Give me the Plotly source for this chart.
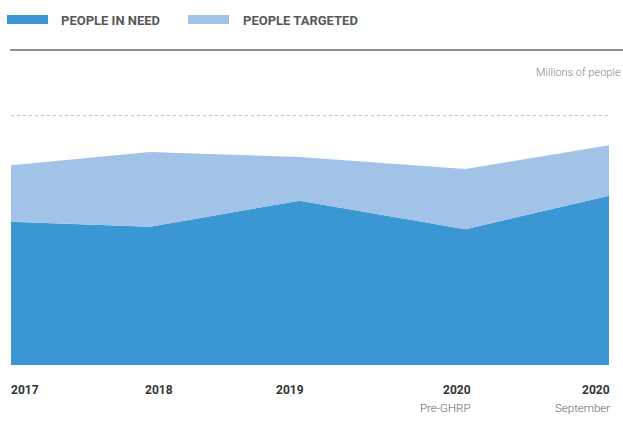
import plotly.graph_objects as go

# ---- data (millions of people) ----
years = ["2017", "2018", "2019", "2020", "2020"]
sublabels = ["", "", "", "Pre-GHRP", "September"]
x_pos = [0, 0.93, 1.93, 3.04, 4]
people_in_need = [11.5, 11.1, 13.2, 10.9, 13.6]
people_targeted = [16.05, 17.1, 16.7, 15.75, 17.65]
grid_ticks = [0, 5, 10, 15, 20]

DARK = "#3B97D4"
LIGHT = "#A1C3E7"

fig = go.Figure()
fig.add_trace(go.Scatter(
    x=x_pos, y=people_in_need, mode="lines", line=dict(width=0, color=DARK),
    fill="tozeroy", fillcolor=DARK, name="PEOPLE IN NEED", hoverinfo="skip"))
fig.add_trace(go.Scatter(
    x=x_pos, y=people_targeted, mode="lines", line=dict(width=0, color=LIGHT),
    fill="tonexty", fillcolor=LIGHT, name="PEOPLE TARGETED", hoverinfo="skip"))

W, H = 623, 430
YMAX = 20.4
L, R, B = 11, 14, 65
ph = round(249 * YMAX / 20)
T = H - B - ph
pw = W - L - R

def px(xp):
    return (xp - L) / pw

def py(yp):
    return (H - B - yp) / ph

shapes = []
annotations = []

# legend
legend_items = [("PEOPLE IN NEED", DARK, 7, 59), ("PEOPLE TARGETED", LIGHT, 188, 241)]
for text, col, rx, tx in legend_items:
    shapes.append(dict(type="rect", xref="paper", yref="paper",
                       x0=px(rx), x1=px(rx + 41), y0=py(24), y1=py(15),
                       fillcolor=col, line=dict(width=0)))
    annotations.append(dict(text=text, xref="paper", yref="paper",
                            x=px(tx), y=py(20.5), xanchor="left", yanchor="middle",
                            showarrow=False,
                            font=dict(family="Roboto", size=13, color="#585858", weight="bold")))

# top rule
shapes.append(dict(type="line", xref="paper", yref="paper",
                   x0=px(10), x1=px(623), y0=py(50), y1=py(50),
                   line=dict(color="#6b6b6b", width=1.5)))

annotations.append(dict(text="Millions of people", xref="paper", yref="paper",
                        x=px(622.5), y=py(72.5), xanchor="right", yanchor="middle",
                        showarrow=False,
                        font=dict(family="Roboto", size=11, color="#858585", weight=300)))

# x labels
anchors = ["left", "center", "center", "right", "right"]
shifts = [-2, 8.5, -10, 8, 3]
for xv, yr, sub, anc, sh in zip(x_pos, years, sublabels, anchors, shifts):
    annotations.append(dict(text=yr, xref="x", yref="paper", x=xv, y=0,
                            yshift=-25, xshift=sh, xanchor=anc, yanchor="middle",
                            showarrow=False,
                            font=dict(family="Roboto", size=12, color="#333333", weight="bold")))
    if sub:
        annotations.append(dict(text=sub, xref="x", yref="paper", x=xv, y=0,
                                yshift=-42.5, xshift=sh, xanchor=anc, yanchor="middle",
                                showarrow=False,
                                font=dict(family="Roboto", size=11.5, color="#666666", weight=300)))

fig.update_layout(
    width=W, height=H,
    margin=dict(l=L, r=R, t=T, b=B),
    paper_bgcolor="white", plot_bgcolor="white",
    showlegend=False,
    xaxis=dict(range=[0, 4], showgrid=False, zeroline=False, showticklabels=False,
               showline=False, fixedrange=True),
    yaxis=dict(range=[0, YMAX], tickvals=grid_ticks, showgrid=True, gridcolor="#c4c4c4",
               griddash="dot", gridwidth=1, zeroline=False, showticklabels=False,
               showline=False, fixedrange=True),
    shapes=shapes,
    annotations=annotations,
)

fig.write_html("out.html", config={"displayModeBar": False},
               post_script="document.body.style.margin='0';document.body.style.padding='0';")
